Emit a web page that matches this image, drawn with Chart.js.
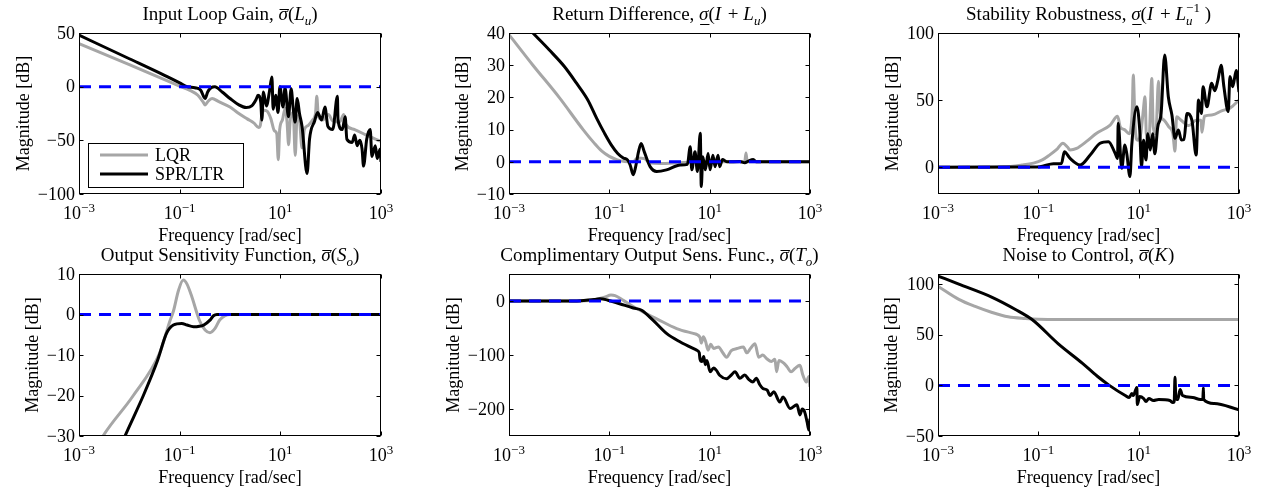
<!DOCTYPE html>
<html>
<head>
<meta charset="utf-8">
<title>Singular value plots</title>
<script src="https://cdn.jsdelivr.net/npm/chart.js@4.4.1/dist/chart.umd.min.js"></script>
<style>
  body { margin: 0; background: #fff; }
  #wrap { position: relative; width: 1263px; height: 490px; }
  .cell { position: absolute; width: 421px; height: 245px; }
</style>
</head>
<body>
<div id="wrap"></div>
<script>
// Frequency axis (rad/sec), shared by all six panels
const freqRange = [1e-3, 1e3];
const freqTicks = [1e-3, 1e-1, 1e1, 1e3];

// Input loop gain [freq, dB]
const loopGainLqr = [[0.001, 40], [0.01, 20.5], [0.05, 6.5], [0.1, 0.5], [0.16, -3.5], [0.23, -8], [0.29, -14], [0.32, -17], [0.36, -14], [0.44, -11], [0.6, -14], [1, -19], [1.4, -24], [2.2, -30], [3.0, -34], [3.7, -38], [4.0, -36], [4.3, -26], [4.8, -22], [5.5, -23], [6.5, -30], [7.6, -41], [8.5, -44], [9.1, -68], [9.7, -40], [11, -31], [12.5, -20], [13.6, -33], [14.6, -54], [15.8, -30], [18, -24], [19.8, -64], [21.5, -27], [24, -31], [27, -57], [30, -40], [36, -36], [44, -31], [50, -25], [53, -9], [57, -28], [70, -31], [90, -26], [110, -32], [150, -33], [182, -26], [200, -35], [300, -40], [500, -45], [1000, -51]];
const loopGainSpr = [[0.001, 48], [0.01, 26], [0.05, 10.5], [0.1, 3.5], [0.14, 0], [0.2, -1], [0.26, -3], [0.32, -11], [0.36, -5], [0.42, -1], [0.5, 0], [0.7, -5], [1.0, -11], [1.5, -17], [2.1, -19.5], [2.7, -18], [3.3, -12], [3.6, -8], [4.1, -15], [4.3, -31], [4.6, -5], [5.3, -18], [6.1, -4], [6.8, 9], [7.2, -21], [8.1, -8], [9.0, -24], [9.8, 0], [11.3, -19], [12.4, -1], [14.5, -28], [16.4, -2], [18, -20], [19.7, -33], [21.6, -11], [24, -25], [27, -37], [34, -81], [38, -49], [48, -32], [55, -24], [66, -31], [77, -19], [88, -37], [110, -40], [136, -9], [140, -31], [170, -40], [194, -28], [210, -49], [267, -52], [300, -45], [335, -55], [380, -50], [420, -58], [450, -74], [520, -49], [610, -40], [660, -65], [770, -55], [840, -67], [960, -58], [1000, -70]];
const loopGainTicks = [-100, -50, 0, 50];

// Return difference
const returnDiffLqr = [[0.001, 39.5], [0.003, 30], [0.01, 20], [0.03, 10], [0.05, 5.8], [0.07, 3.4], [0.1, 1.7], [0.14, 0.7], [0.2, 0.1], [0.3, 0], [0.36, 1.2], [0.5, 1], [0.65, -0.4], [1, -0.5], [3, -0.2], [10, 0], [50, 0], [53, 2.7], [56, 0], [1000, 0]];
const returnDiffSpr = [[0.001, 48], [0.003, 40], [0.0063, 34.8], [0.0127, 29.6], [0.022, 24.5], [0.037, 19.3], [0.056, 13.5], [0.08, 8.9], [0.11, 5.2], [0.147, 2.6], [0.19, 1.2], [0.23, 0.6], [0.26, -1], [0.3, -4], [0.34, -1], [0.38, 3], [0.43, 5.7], [0.5, 3], [0.65, -1.5], [0.88, -3], [1.38, -2.5], [2.6, -1], [3.6, -0.8], [4.1, 4.7], [4.4, -2.5], [5.1, 3.1], [5.7, -3], [6.5, 8.9], [6.8, -7.7], [7.3, 1.6], [8.2, -2.5], [9.3, 2.6], [10.2, -2.5], [11.6, 2], [12.8, -1.5], [14.7, 2], [15.8, -1.5], [18, 0.7], [22, 0], [40, 0.1], [50, -0.3], [60, 0.3], [74, 0.7], [85, 0], [1000, 0]];
const returnDiffTicks = [-10, 0, 10, 20, 30, 40];

// Stability robustness
const robustLqr = [[0.001, 0], [0.02, 0.3], [0.047, 1.6], [0.08, 3], [0.12, 5.4], [0.16, 8.5], [0.23, 13], [0.31, 17.8], [0.38, 15], [0.43, 12.8], [0.58, 14], [0.9, 19], [1.45, 25.3], [2.7, 31.4], [3.8, 38], [4.3, 30], [5.2, 28], [6.5, 25], [7.5, 45], [7.8, 68.7], [8.5, 30], [9.5, 20], [11, 25], [12.2, 40], [13.4, 52.5], [14.2, 25], [16, 20], [18.3, 66], [19.5, 30], [22, 25], [24.8, 64], [27, 40], [32, 35], [40, 30], [48, 25], [53, 12], [57, 37.6], [70, 35], [100, 31], [140, 35], [175, 35], [182, 26], [205, 38], [300, 39], [450, 42], [660, 44], [1000, 50]];
const robustSpr = [[0.001, 0], [0.05, 0.1], [0.107, 0.4], [0.2, 2.5], [0.29, 2.8], [0.33, 11.5], [0.43, 6.5], [0.68, 1.6], [1.08, 9], [1.7, 17.8], [2.5, 19], [3.4, 10.3], [3.8, 6.5], [3.9, 32.7], [4.6, -0.8], [5.3, 16.5], [5.8, 10], [6.7, -7], [7.3, 17], [9.2, 45], [10.5, 27.7], [11.4, 0.4], [12.5, 20], [14, 5.4], [15.2, 25], [17, 12.8], [19, 25], [21, 10], [24, 30], [28, 40], [33, 83.6], [39, 52.5], [46, 38.9], [53, 21.5], [62, 27.7], [71, 20.3], [80, 20.5], [92, 40], [115, 35], [140, 9], [156, 50], [178, 40], [192, 60], [230, 45], [285, 62.5], [330, 57], [380, 65], [440, 76], [500, 60], [610, 41.4], [660, 67.5], [750, 60], [880, 72], [1000, 56]];
const robustTicks = [0, 50, 100];

// Output sensitivity
const sensLqr = [[0.002, -34], [0.003, -30], [0.012, -20], [0.04, -9.5], [0.064, -1.6], [0.075, 0.8], [0.095, 6], [0.118, 8.5], [0.14, 7.5], [0.17, 4.8], [0.25, -1.6], [0.32, -3.8], [0.40, -4.5], [0.5, -3.5], [0.63, -1.3], [1.0, 0], [1000, 0]];
const sensSpr = [[0.006, -34], [0.0082, -30], [0.019, -20], [0.036, -11.5], [0.055, -4.6], [0.075, -2.6], [0.11, -2.2], [0.14, -2.6], [0.188, -3], [0.3, -2.6], [0.4, -1.4], [0.47, -0.3], [0.55, 0], [1000, 0]];
const sensTicks = [-30, -20, -10, 0, 10];

// Complementary output sensitivity
const compLqr = [[0.001, 0], [0.02, 0], [0.05, 2], [0.08, 7], [0.108, 11], [0.13, 10], [0.19, 1.2], [0.35, -14], [0.88, -33], [2.2, -51], [4.7, -60], [6.4, -67], [6.8, -78], [7.5, -66], [8.3, -75], [9.3, -91], [10.5, -80], [12, -88], [15, -85], [18, -95], [21.7, -104], [27, -92], [35, -88], [47, -85], [55, -96], [65, -88], [80, -79], [95, -104], [115, -100], [138, -107], [170, -112], [200, -108], [216, -131], [240, -110], [300, -115], [350, -122], [420, -131], [500, -125], [630, -119], [720, -137], [850, -150], [950, -140], [1000, -159]];
const compSpr = [[0.001, 0], [0.02, 0], [0.05, 3], [0.065, 4], [0.09, 2], [0.16, -5], [0.3, -13], [0.44, -17], [0.75, -36], [1.38, -60], [2.6, -76], [5.5, -91], [6.2, -96], [6.4, -107], [7.0, -112], [7.6, -103], [8.2, -118], [8.8, -110], [10.2, -131], [12, -124], [13.5, -128], [16, -138], [21.7, -144], [27, -137], [32, -131], [40, -143], [50, -137], [60, -145], [73, -150], [85, -143], [100, -155], [115, -162], [140, -165], [160, -175], [190, -168], [250, -187], [290, -178], [400, -199], [550, -192], [630, -211], [700, -200], [780, -205], [880, -225], [950, -239], [980, -225], [1000, -218]];
const compTicks = [-200, -100, 0];

// Noise to control
const noiseLqr = [[0.001, 98], [0.0026, 85], [0.0055, 78], [0.012, 72], [0.025, 67.7], [0.055, 66], [0.1, 65.3], [1, 65], [1000, 65]];
const noiseSpr = [[0.001, 108], [0.0026, 100], [0.012, 87], [0.035, 75], [0.075, 65], [0.25, 41], [0.75, 22], [1.5, 9], [2.6, 0], [5.4, -10], [6.5, -12], [7.3, -8], [7.8, -10], [9.2, -2], [9.4, -19], [10.5, -11], [12.6, -13], [14, -16], [16, -13], [19.6, -15], [25, -14], [42, -15], [48, -17], [51, -16], [53, 8], [55, -12], [60, -14], [67, -4], [75, -10], [120, -12], [170, -14], [190, -14], [195, -2], [198, -14], [320, -18], [1000, -24]];
const noiseTicks = [-50, 0, 50, 100];

const seriesNames = ['LQR', 'SPR/LTR'];
const zeroLine = [[1e-3, 0], [1e3, 0]];

const FONT = '"Liberation Serif", "DejaVu Serif", "Noto Serif", "Times New Roman", serif';
const GRAY = '#a6a6a6';
const SIZE = 18;
const TITLE_SIZE = 19;

function font(size, italic) {
  return (italic ? 'italic ' : '') + size + 'px ' + FONT;
}

// Lay out a run of text pieces (sub/superscripts, italics, bars) and draw it
function drawRich(ctx, parts, x, y, size, align) {
  const items = [];
  let cur = 0, prevStart = 0, prevW = 0;
  parts.forEach(p => {
    const s = (p.sub || p.sup) ? Math.round(size * 0.7) : size;
    ctx.font = font(s, p.it);
    const w = ctx.measureText(p.t).width;
    const px = p.stack ? prevStart : cur;
    const dy = p.sub ? size * 0.25 : p.sup ? -size * 0.4 : 0;
    items.push({ p, s, w, px, dy });
    if (p.stack) {
      cur = prevStart + Math.max(prevW, w);
    } else {
      prevStart = px; prevW = w; cur = px + w + (p.gap || 0);
    }
  });
  const total = cur;
  const x0 = align === 'center' ? x - total / 2 : x;
  ctx.textAlign = 'left';
  ctx.textBaseline = 'alphabetic';
  items.forEach(it => {
    ctx.font = font(it.s, it.p.it);
    ctx.fillText(it.p.t, x0 + it.px, y + it.dy);
    if (it.p.over || it.p.under) {
      const ly = it.p.over ? y - size * 0.6 : y + size * 0.22;
      ctx.fillRect(x0 + it.px + 1, Math.round(ly), it.w, 1);
    }
  });
}

function sign(v) {
  return v < 0 ? '\u2212' + Math.abs(v) : String(v);
}

// Box, inward ticks, labels, titles and the legend
const panelPlugin = {
  id: 'panel',
  afterDraw(chart, args, opts) {
    const { ctx, chartArea: a } = chart;
    const xs = chart.scales.x, ys = chart.scales.y;
    const L = Math.round(a.left) + 0.5, R = Math.round(a.right) - 0.5;
    const T = Math.round(a.top) + 0.5, B = Math.round(a.bottom) - 0.5;
    const tl = 4;
    ctx.save();
    ctx.strokeStyle = '#000';
    ctx.fillStyle = '#000';
    ctx.lineWidth = 1;

    ctx.beginPath();
    freqTicks.forEach(v => {
      const px = Math.round(xs.getPixelForValue(v)) + 0.5;
      ctx.moveTo(px, B); ctx.lineTo(px, B - tl);
      ctx.moveTo(px, T); ctx.lineTo(px, T + tl);
    });
    opts.yTicks.forEach(v => {
      const py = Math.round(ys.getPixelForValue(v)) + 0.5;
      ctx.moveTo(L, py); ctx.lineTo(L + tl, py);
      ctx.moveTo(R, py); ctx.lineTo(R - tl, py);
    });
    ctx.stroke();
    ctx.strokeRect(L, T, R - L, B - T);

    // y tick labels
    ctx.font = font(SIZE);
    ctx.textAlign = 'right';
    ctx.textBaseline = 'middle';
    let maxW = 0;
    opts.yTicks.forEach(v => {
      const txt = sign(v);
      maxW = Math.max(maxW, ctx.measureText(txt).width);
      ctx.fillText(txt, a.left - 4, ys.getPixelForValue(v) + 1);
    });

    // x tick labels, powers of ten
    freqTicks.forEach(v => {
      const e = Math.round(Math.log10(v));
      drawRich(ctx, [{ t: '10' }, { t: sign(e), sup: true }], xs.getPixelForValue(v), a.bottom + 25, SIZE, 'center');
    });

    ctx.font = font(SIZE);
    ctx.textAlign = 'center';
    ctx.textBaseline = 'alphabetic';
    ctx.fillText('Frequency [rad/sec]', (a.left + a.right) / 2, a.bottom + 47);

    ctx.save();
    ctx.translate(a.left - 4 - maxW - 9, (a.top + a.bottom) / 2);
    ctx.rotate(-Math.PI / 2);
    ctx.fillText('Magnitude [dB]', 0, 0);
    ctx.restore();

    drawRich(ctx, opts.title, (a.left + a.right) / 2, a.top - 13, TITLE_SIZE, 'center');

    if (opts.legend) {
      const g = opts.legend;
      ctx.fillStyle = '#fff';
      ctx.fillRect(g.x, g.y, g.w, g.h);
      ctx.strokeRect(g.x + 0.5, g.y + 0.5, g.w, g.h);
      const sets = chart.data.datasets.slice(0, 2);
      sets.forEach((ds, i) => {
        const ly = g.y + 12 + i * 19;
        ctx.strokeStyle = ds.borderColor;
        ctx.lineWidth = ds.borderWidth;
        ctx.beginPath();
        ctx.moveTo(g.x + 12, ly);
        ctx.lineTo(g.x + 60, ly);
        ctx.stroke();
        ctx.fillStyle = '#000';
        ctx.font = font(SIZE);
        ctx.textAlign = 'left';
        ctx.fillText(ds.label, g.x + 67, ly + 6);
      });
    }
    ctx.restore();
  }
};

const sigmaBar = { t: '\u03c3', it: true, over: true };
const sigmaLow = { t: '\u03c3', it: true, under: true };

const panels = [
  { pos: [0, 0], box: [79, 381, 33, 194], y: [-100, 50], yTicks: loopGainTicks, lqr: loopGainLqr, spr: loopGainSpr,
    title: [{ t: 'Input Loop Gain, ' }, sigmaBar, { t: '(' }, { t: 'L', it: true }, { t: 'u', it: true, sub: true }, { t: ')' }],
    legend: { x: 88, y: 143, w: 155, h: 44 } },
  { pos: [421, 0], box: [88, 389, 33, 194], y: [-10, 40], yTicks: returnDiffTicks, lqr: returnDiffLqr, spr: returnDiffSpr,
    title: [{ t: 'Return Difference, ' }, sigmaLow, { t: '(' }, { t: 'I', it: true, gap: 2 }, { t: ' + ' }, { t: 'L', it: true }, { t: 'u', it: true, sub: true }, { t: ')' }] },
  { pos: [842, 0], box: [96, 397, 33, 194], y: [-20, 100], yTicks: robustTicks, lqr: robustLqr, spr: robustSpr,
    title: [{ t: 'Stability Robustness, ' }, sigmaLow, { t: '(' }, { t: 'I', it: true, gap: 2 }, { t: ' + ' }, { t: 'L', it: true }, { t: 'u', it: true, sub: true }, { t: '\u22121', sup: true, stack: true }, { t: ' )' }] },
  { pos: [0, 245], box: [79, 381, 29, 191], y: [-30, 10], yTicks: sensTicks, lqr: sensLqr, spr: sensSpr,
    title: [{ t: 'Output Sensitivity Function, ' }, sigmaBar, { t: '(' }, { t: 'S', it: true }, { t: 'o', it: true, sub: true }, { t: ')' }] },
  { pos: [421, 245], box: [88, 389, 29, 191], y: [-250, 50], yTicks: compTicks, lqr: compLqr, spr: compSpr,
    title: [{ t: 'Complimentary Output Sens. Func., ' }, sigmaBar, { t: '(' }, { t: 'T', it: true }, { t: 'o', it: true, sub: true }, { t: ')' }] },
  { pos: [842, 245], box: [96, 397, 29, 191], y: [-50, 110], yTicks: noiseTicks, lqr: noiseLqr, spr: noiseSpr,
    title: [{ t: 'Noise to Control, ' }, sigmaBar, { t: '(' }, { t: 'K', it: true, gap: 1 }, { t: ')' }] }
];

const toXY = pts => pts.map(p => ({ x: p[0], y: p[1] }));

const wrap = document.getElementById('wrap');
panels.forEach(p => {
  const cell = document.createElement('div');
  cell.className = 'cell';
  cell.style.left = p.pos[0] + 'px';
  cell.style.top = p.pos[1] + 'px';
  const canvas = document.createElement('canvas');
  canvas.width = 421;
  canvas.height = 245;
  cell.appendChild(canvas);
  wrap.appendChild(cell);

  const [l, r, t, b] = p.box;
  new Chart(canvas, {
    type: 'line',
    data: {
      datasets: [
        { label: seriesNames[0], data: toXY(p.lqr), borderColor: GRAY, borderWidth: 3, order: 3, clip: 0, cubicInterpolationMode: 'monotone' },
        { label: seriesNames[1], data: toXY(p.spr), borderColor: '#000', borderWidth: 3, order: 2, clip: 0, cubicInterpolationMode: 'monotone' },
        { label: 'zero', data: toXY(zeroLine), borderColor: '#0000ff', borderWidth: 3, borderDash: [12, 8], order: 1, clip: 0 }
      ]
    },
    options: {
      responsive: false,
      animation: false,
      events: [],
      elements: {
        point: { radius: 0 },
        line: { tension: 0, borderJoinStyle: 'round', borderCapStyle: 'butt' }
      },
      layout: { padding: { left: l, right: 421 - r, top: t, bottom: 245 - b } },
      scales: {
        x: {
          type: 'logarithmic', min: freqRange[0], max: freqRange[1],
          ticks: { display: false }, grid: { display: false }, border: { display: false },
          afterFit: s => { s.height = 0; }
        },
        y: {
          type: 'linear', min: p.y[0], max: p.y[1],
          ticks: { display: false }, grid: { display: false }, border: { display: false },
          afterFit: s => { s.width = 0; }
        }
      },
      plugins: {
        legend: { display: false },
        tooltip: { enabled: false },
        title: { display: false },
        panel: { yTicks: p.yTicks, title: p.title, legend: p.legend }
      }
    },
    plugins: [panelPlugin]
  });
});
</script>
</body>
</html>
